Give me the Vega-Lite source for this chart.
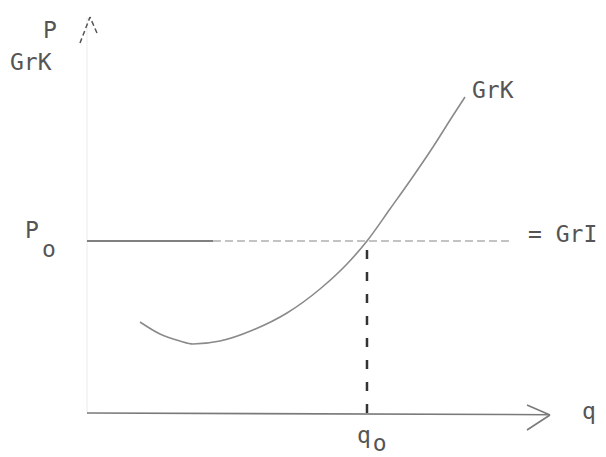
{
  "$schema": "https://vega.github.io/schema/vega-lite/v6.json",
  "width": 606,
  "height": 457,
  "autosize": {"type": "none"},
  "padding": 0,
  "background": "white",
  "config": {"view": {"stroke": null}},
  "encoding": {
    "x": {"field": "q", "type": "quantitative", "axis": null, "scale": {"domain": [-3.107, 18.536], "nice": false, "zero": false}},
    "y": {"field": "P", "type": "quantitative", "axis": null, "scale": {"domain": [-2.558, 24.012], "nice": false, "zero": false}}
  },
  "layer": [
    {
      "data": {"values": [{"q": 0, "P": 0, "q2": 0, "P2": 23.0}]},
      "mark": {"type": "rule", "color": "#f2f2f2", "strokeWidth": 1.5},
      "encoding": {"x2": {"field": "q2"}, "y2": {"field": "P2"}}
    },
    {
      "data": {"values": [
        {"q": -0.25, "P": 21.51, "q2": 0.107, "P2": 23.02},
        {"q": 0.357, "P": 22.09, "q2": 0.107, "P2": 23.02}
      ]},
      "mark": {"type": "rule", "color": "#555555", "strokeWidth": 1.5, "strokeDash": [5, 3]},
      "encoding": {"x2": {"field": "q2"}, "y2": {"field": "P2"}}
    },
    {
      "data": {"values": [
        {"q": 0, "P": 0, "q2": 16.536, "P2": -0.1},
        {"q": 15.714, "P": 0.465, "q2": 16.536, "P2": -0.116},
        {"q": 15.714, "P": -0.988, "q2": 16.536, "P2": -0.116}
      ]},
      "mark": {"type": "rule", "color": "#7a7a7a", "strokeWidth": 1.6},
      "encoding": {"x2": {"field": "q2"}, "y2": {"field": "P2"}}
    },
    {
      "data": {"values": [{"q": 0, "P": 10, "q2": 4.5, "P2": 10}]},
      "mark": {"type": "rule", "color": "#808080", "strokeWidth": 2},
      "encoding": {"x2": {"field": "q2"}, "y2": {"field": "P2"}}
    },
    {
      "data": {"values": [{"q": 4.5, "P": 10, "q2": 15.2, "P2": 10}]},
      "mark": {"type": "rule", "color": "#b0b0b0", "strokeWidth": 1.6, "strokeDash": [8, 4]},
      "encoding": {"x2": {"field": "q2"}, "y2": {"field": "P2"}}
    },
    {
      "data": {"values": [{"q": 10, "P": 0, "q2": 10, "P2": 10}]},
      "mark": {"type": "rule", "color": "#333333", "strokeWidth": 2.5, "strokeDash": [9, 13]},
      "encoding": {"x2": {"field": "q2"}, "y2": {"field": "P2"}}
    },
    {
      "data": {"values": [
        {"q": 1.893, "P": 5.291},
        {"q": 2.607, "P": 4.593},
        {"q": 3.321, "P": 4.186},
        {"q": 3.786, "P": 4.012},
        {"q": 4.75, "P": 4.186},
        {"q": 5.929, "P": 4.826},
        {"q": 7.143, "P": 5.814},
        {"q": 8.321, "P": 7.209},
        {"q": 9.286, "P": 8.663},
        {"q": 10.0, "P": 10.0},
        {"q": 10.821, "P": 11.86},
        {"q": 11.607, "P": 13.663},
        {"q": 12.357, "P": 15.465},
        {"q": 13.036, "P": 17.209},
        {"q": 13.5, "P": 18.372}
      ]},
      "mark": {"type": "line", "color": "#8a8a8a", "strokeWidth": 1.6, "interpolate": "monotone"},
      "encoding": {"order": {"field": "q", "type": "quantitative"}}
    },
    {
      "data": {"values": [
        {"q": -1.571, "P": 21.80, "label": "P"},
        {"q": -2.75, "P": 19.94, "label": "GrK"},
        {"q": 13.75, "P": 18.31, "label": "GrK"},
        {"q": -2.214, "P": 10.17, "label": "P"},
        {"q": -1.607, "P": 9.07, "label": "o"},
        {"q": 15.75, "P": 9.94, "label": "= GrI"},
        {"q": 17.68, "P": -0.32, "label": "q"},
        {"q": 9.643, "P": -1.72, "label": "q"},
        {"q": 10.21, "P": -2.2, "label": "o"}
      ]},
      "mark": {"type": "text", "font": "DejaVu Sans Mono", "fontSize": 23, "color": "#555555", "align": "left", "baseline": "alphabetic"},
      "encoding": {"text": {"field": "label", "type": "nominal"}}
    }
  ]
}
